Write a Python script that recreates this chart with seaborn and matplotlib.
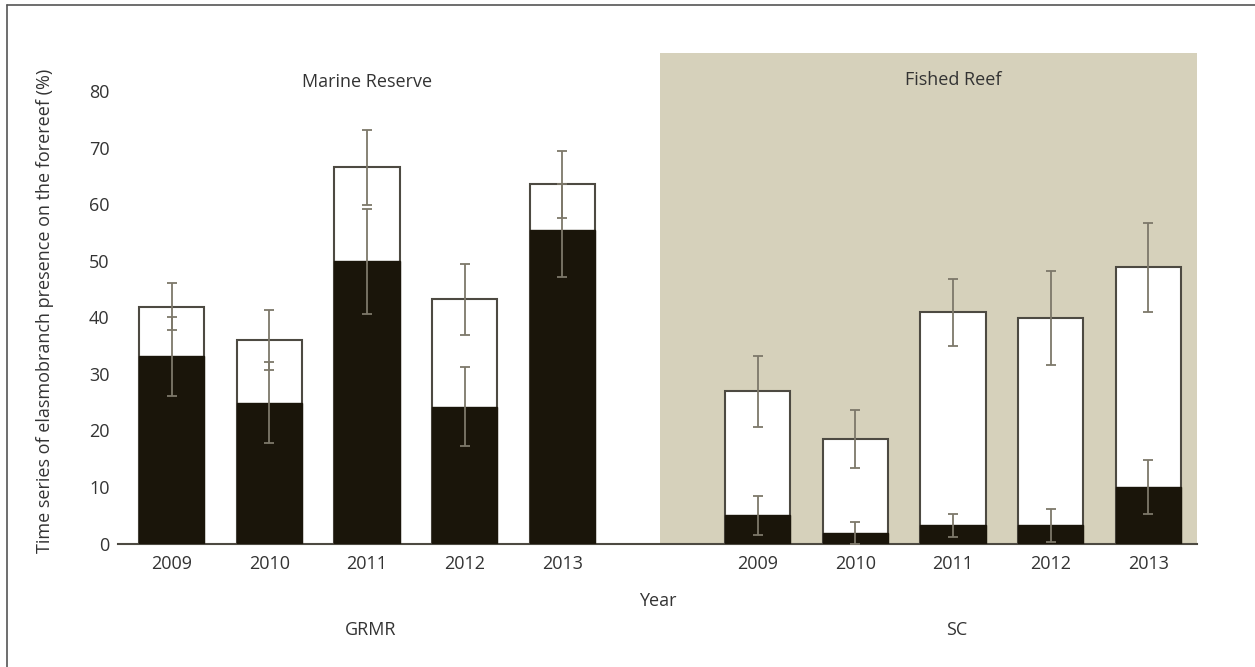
import numpy as np
import pandas as pd
import matplotlib
matplotlib.use("Agg")
import matplotlib.pyplot as plt
import seaborn as sns

years = ["2009", "2010", "2011", "2012", "2013"]
sites = ["GRMR", "SC"]

# total presence (white bars) and its error
grmr_total = [41.9, 36.0, 66.5, 43.2, 63.5]
grmr_total_err = [4.2, 5.3, 6.6, 6.3, 5.9]
sc_total = [26.9, 18.5, 40.9, 39.9, 48.8]
sc_total_err = [6.3, 5.1, 5.9, 8.3, 7.9]

# dark part of bars and its error
grmr_dark = [33.1, 24.9, 49.9, 24.2, 55.4]
grmr_dark_err = [7.0, 7.2, 9.3, 7.0, 8.2]
sc_dark = [5.0, 1.9, 3.2, 3.2, 10.0]
sc_dark_err = [3.4, 1.9, 2.1, 2.9, 4.7]

df = pd.DataFrame({
    "site": np.repeat(sites, len(years)),
    "year": years * 2,
    "slot": list(range(5)) + list(range(6, 11)),
    "total": grmr_total + sc_total,
    "total_err": grmr_total_err + sc_total_err,
    "dark": grmr_dark + sc_dark,
    "dark_err": grmr_dark_err + sc_dark_err,
})

sns.set_style("white")
plt.rcParams["font.family"] = ["Open Sans", "DejaVu Sans"]
txt = "#333333"
fs = 13

fig = plt.figure(figsize=(12.55, 6.67), dpi=100)
ax = fig.add_axes([0.094, 0.185, 0.86, 0.7355])

# shaded fished reef area
ax.axvspan(5.0, 10.6, color="#d6d1bb", zorder=0, lw=0)

sns.barplot(data=df, x="slot", y="total", native_scale=True, width=0.67,
            color="white", edgecolor="#4d4a42", linewidth=1.5,
            errorbar=None, ax=ax, zorder=2)
sns.barplot(data=df, x="slot", y="dark", native_scale=True, width=0.67,
            color="#1a150a", edgecolor="#1a150a", linewidth=1.0, saturation=1,
            errorbar=None, ax=ax, zorder=3)

ebar = dict(fmt="none", ecolor="#7d786a", elinewidth=1.3, capsize=3.5,
            capthick=1.3, zorder=4)
ax.errorbar(df["slot"], df["total"], yerr=df["total_err"], **ebar)
ax.errorbar(df["slot"], df["dark"], yerr=df["dark_err"], **ebar)

ax.set_xlim(-0.55, 10.5)
ax.set_ylim(0, 86.7)
ax.set_yticks(range(0, 81, 10))
ax.set_xticks(df["slot"])
ax.set_xticklabels(df["year"])
ax.tick_params(axis="both", length=0, labelsize=fs, colors=txt, pad=8)
ax.tick_params(axis="y", pad=6)
for s in ["top", "right", "left"]:
    ax.spines[s].set_visible(False)
ax.spines["bottom"].set_color("#4d4a42")
ax.spines["bottom"].set_linewidth(1.5)
ax.set_xlabel("")
ax.set_ylabel("Time series of elasmobranch presence on the forereef (%)",
              fontsize=fs, color=txt)
ax.yaxis.set_label_coords(-0.059, 0.475)

ax.text(2.0, 81.5, "Marine Reserve", ha="center", va="center", fontsize=fs, color=txt)
ax.text(8.0, 81.9, "Fished Reef", ha="center", va="center", fontsize=fs, color=txt)

fig.text(658 / 1255, 1 - 601 / 667, "Year", ha="center", va="center", fontsize=fs, color=txt)
fig.text(371 / 1255, 1 - 630 / 667, "GRMR", ha="center", va="center", fontsize=fs, color=txt)
fig.text(957 / 1255, 1 - 630 / 667, "SC", ha="center", va="center", fontsize=fs, color=txt)

# figure frame
fig.add_artist(plt.Line2D([7 / 1255, 7 / 1255], [0, 1 - 5 / 667], transform=fig.transFigure,
                          color="#555555", lw=1.2))
fig.add_artist(plt.Line2D([7 / 1255, 1], [1 - 5 / 667, 1 - 5 / 667], transform=fig.transFigure,
                          color="#555555", lw=1.2))

fig.savefig("out.png", dpi=100)
